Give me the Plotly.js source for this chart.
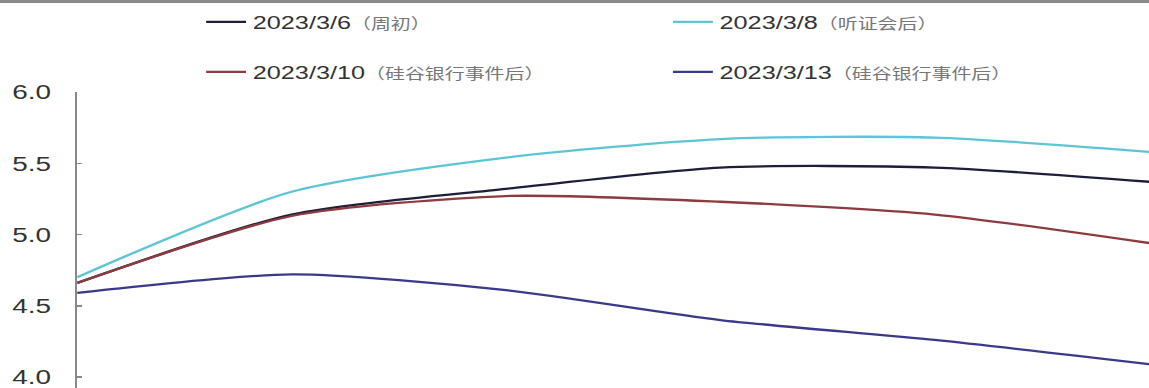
<!DOCTYPE html>
<html>
<head>
<meta charset="utf-8">
<script src="https://cdn.plot.ly/plotly-3.0.1.min.js"></script>
<style>
html,body{margin:0;padding:0;background:#fff;overflow:hidden;}
#chart{width:864px;height:388px;transform:scaleX(1.33);transform-origin:0 0;}
</style>
</head>
<body>
<div id="chart"></div>
<script>
// Categories (x axis labels cut off in the reference; equally spaced points)
const categories = ["P1", "P2", "P3", "P4", "P5", "P6"];

// Series values (%)
const s0306 = [4.66, 5.14, 5.32, 5.47, 5.47, 5.37];
const s0308 = [4.70, 5.30, 5.54, 5.67, 5.68, 5.58];
const s0310 = [4.66, 5.13, 5.27, 5.23, 5.14, 4.94];
const s0313 = [4.59, 4.72, 4.61, 4.40, 4.26, 4.09];

const names = [
  '2023/3/6<span style="color:#777;font-size:15px">（周初）</span>',
  '2023/3/8<span style="color:#777;font-size:15px">（听证会后）</span>',
  '2023/3/10<span style="color:#777;font-size:15px">（硅谷银行事件后）</span>',
  '2023/3/13<span style="color:#777;font-size:15px">（硅谷银行事件后）</span>'
];
const colors = ["#1d1f3a", "#5cc6d6", "#8e3b3f", "#3b3a8a"];
const series = [s0306, s0308, s0310, s0313];
const legendIds = ["legend", "legend", "legend2", "legend2"];

const traces = series.map((vals, i) => ({
  type: "scatter",
  mode: "lines",
  x: categories,
  y: vals,
  name: names[i],
  legend: legendIds[i],
  line: {color: colors[i], width: 2.3, shape: "spline", smoothing: 0.7},
  hoverinfo: "skip"
}));

const W = 864;
const legendCommon = {
  orientation: "h",
  xref: "container",
  yref: "container",
  xanchor: "left",
  yanchor: "middle",
  x: 150 / W,
  entrywidth: 306,
  entrywidthmode: "pixels",
  bgcolor: "rgba(0,0,0,0)",
  font: {family: "Liberation Sans, Arial, Noto Sans CJK SC, sans-serif", size: 19, color: "#333"},
  itemclick: false
};

const layout = {
  width: W,
  height: 388,
  margin: {l: 58, r: 0, t: 92, b: 0, pad: 0},
  paper_bgcolor: "#fff",
  plot_bgcolor: "#fff",
  showlegend: true,
  legend: Object.assign({}, legendCommon, {y: 1 - 22/388}),
  legend2: Object.assign({}, legendCommon, {y: 1 - 72/388}),
  xaxis: {
    type: "category",
    range: [0, categories.length - 1],
    showgrid: false, zeroline: false, showline: false,
    showticklabels: false, ticks: "", fixedrange: true
  },
  yaxis: {
    range: [3.923, 6.0],
    tickvals: [4.0, 4.5, 5.0, 5.5, 6.0],
    tickformat: ".1f",
    ticks: "inside",
    ticklen: 4,
    tickwidth: 1.5,
    tickcolor: "#888",
    showline: true,
    linecolor: "#888",
    linewidth: 1.5,
    showgrid: false,
    zeroline: false,
    ticklabelstandoff: 14,
    ticklabeloverflow: "allow",
    tickfont: {family: "Liberation Sans, Arial, sans-serif", size: 21, color: "#333"},
    fixedrange: true
  },
  shapes: [{
    type: "rect", xref: "paper", yref: "paper",
    x0: -58/806, x1: 1, y0: 1 + 89/296, y1: 1 + 92/296,
    fillcolor: "#8a8a8a", line: {width: 0}, layer: "above"
  }]
};

Plotly.newPlot("chart", traces, layout, {displayModeBar: false, staticPlot: true});
</script>
</body>
</html>
